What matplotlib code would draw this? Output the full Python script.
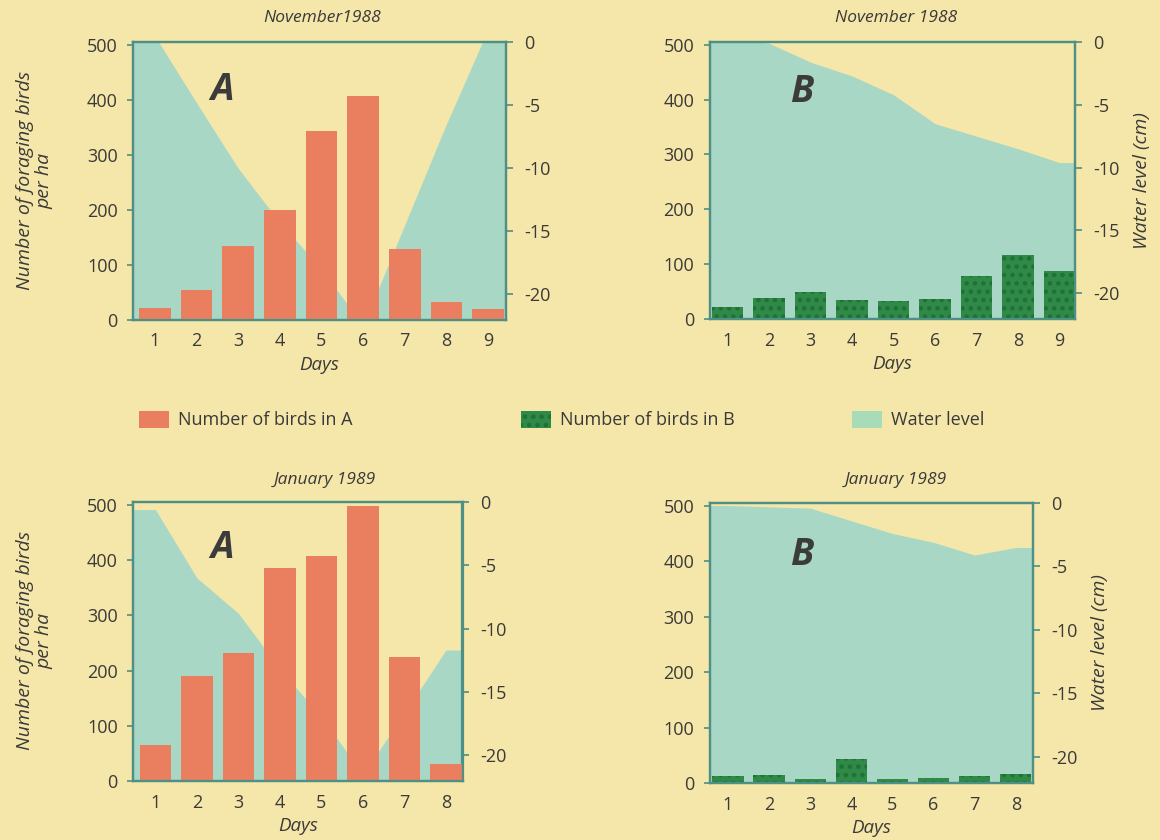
import numpy as np
import matplotlib
matplotlib.use("Agg")
import matplotlib.pyplot as plt
from matplotlib import font_manager
from matplotlib.patches import Rectangle

# ---------------- data ----------------
days_nov = [1, 2, 3, 4, 5, 6, 7, 8, 9]
days_jan = [1, 2, 3, 4, 5, 6, 7, 8]
birds_nov_A = [22, 54, 135, 200, 344, 406, 129, 33, 20]
birds_nov_B = [21, 39, 49, 34, 33, 37, 78, 116, 87]
birds_jan_A = [65, 190, 232, 385, 408, 497, 225, 30]
birds_jan_B = [12, 15, 8, 43, 7, 9, 13, 17]
water_nov_A = [0.5, -4.8, -10.0, -14.3, -18.0, -22.5, -14.5, -6.5, 1.0]
water_nov_B = [0.3, -0.1, -1.6, -2.7, -4.2, -6.5, -7.5, -8.5, -9.6]
water_jan_A = [-0.6, -6.0, -8.8, -13.2, -17.0, -21.5, -16.7, -11.7]
water_jan_B = [-0.2, -0.3, -0.4, -1.4, -2.4, -3.1, -4.1, -3.5]
bird_ticks = [0, 100, 200, 300, 400, 500]
water_ticks = [0, -5, -10, -15, -20]
titles = ["November1988", "November 1988", "January 1989", "January 1989"]
site_letters = ["A", "B", "A", "B"]
legend_labels = ["Number of birds in A", "Number of birds in B", "Water level"]

# ---------------- style ----------------
def pick_font():
    for f in ["Liberation Sans Narrow", "DejaVu Sans Condensed", "Open Sans", "DejaVu Sans"]:
        try:
            font_manager.findfont(font_manager.FontProperties(family=f), fallback_to_default=False)
            return f
        except Exception:
            continue
    return "DejaVu Sans"

FONT = pick_font()
plt.rcParams["font.family"] = [FONT, "DejaVu Sans"]
plt.rcParams["hatch.linewidth"] = 2.0

BG = "#F5E6A9"
WATER = "#A9D7C5"
WATER_LEG = "#A8DCB8"
ORANGE = "#E97F5E"
GREEN = "#2E8A46"
GREEN_DOT = "#226F37"
SPINE = "#4E8F86"
TXT = "#3a3a3a"

W, H = 1160, 840
fig = plt.figure(figsize=(11.6, 8.4), dpi=100, facecolor=BG)

def rect(l, t, r, b):
    return [l / W, 1 - b / H, (r - l) / W, (b - t) / H]

panels = [
    dict(rect=rect(133, 42, 506, 320), days=days_nov, birds=birds_nov_A, water=water_nov_A,
         color=ORANGE, hatch=None, xlim=(0.48, 9.43), lpos=(0.239, 0.827), right_label=False),
    dict(rect=rect(709.5, 42, 1075, 319), days=days_nov, birds=birds_nov_B, water=water_nov_B,
         color=GREEN, hatch="..", xlim=(0.57, 9.37), lpos=(0.253, 0.82), right_label=True),
    dict(rect=rect(133, 502, 462.5, 781), days=days_jan, birds=birds_jan_A, water=water_jan_A,
         color=ORANGE, hatch=None, xlim=(0.46, 8.40), lpos=(0.27, 0.835), right_label=False),
    dict(rect=rect(709.5, 503, 1033, 783), days=days_jan, birds=birds_jan_B, water=water_jan_B,
         color=GREEN, hatch="..", xlim=(0.55, 8.42), lpos=(0.286, 0.814), right_label=True),
]

WYLIM = (-22.05, 0.0)
BYLIM = (0, 505)

for i, p in enumerate(panels):
    ax = fig.add_axes(p["rect"])
    axw = ax.twinx()
    ax.set_zorder(axw.get_zorder() + 1)
    ax.patch.set_visible(False)
    axw.patch.set_visible(False)

    days = np.asarray(p["days"], dtype=float)
    water = np.asarray(p["water"], dtype=float)
    x0, x1 = p["xlim"]
    xe = np.r_[x0, days, x1]
    we = np.r_[water[0], water, water[-1]]
    axw.fill_between(xe, WYLIM[0] - 5, we, color=WATER, lw=0)
    axw.set_ylim(*WYLIM)

    if p["hatch"]:
        ax.bar(days, p["birds"], width=0.76, color=p["color"], edgecolor=GREEN_DOT,
               linewidth=0, hatch=p["hatch"])
    else:
        ax.bar(days, p["birds"], width=0.76, color=p["color"], linewidth=0)
    ax.set_xlim(x0, x1)
    ax.set_ylim(*BYLIM)

    ax.set_yticks(bird_ticks)
    ax.set_yticklabels([str(v) for v in bird_ticks])
    axw.set_yticks(water_ticks)
    axw.set_yticklabels([str(v) for v in water_ticks])
    ax.set_xticks(days)
    ax.set_xticklabels([str(int(d)) for d in days])

    for a in (ax, axw):
        for s in a.spines.values():
            s.set_color(SPINE)
            s.set_linewidth(1.6)
    ax.tick_params(axis="y", direction="out", length=4, width=1.2, color=SPINE,
                   labelsize=13, labelcolor=TXT, pad=7)
    ax.tick_params(axis="x", length=0, labelsize=13, labelcolor=TXT, pad=9)
    axw.tick_params(axis="y", direction="out", length=5, width=1.2, color=SPINE,
                    labelsize=13, labelcolor=TXT, pad=8)

    ax.set_xlabel("Days", fontsize=13.5, style="italic", color=TXT, labelpad=4)

    ax.text(p["lpos"][0], p["lpos"][1], site_letters[i], transform=ax.transAxes,
            fontsize=27, style="italic", fontweight="bold", color="#3b3b3b",
            ha="center", va="center")

    if p["right_label"]:
        axw.set_ylabel("Water level (cm)", fontsize=14, style="italic", color=TXT,
                       labelpad=10)

# titles (centered on column)
title_pos = [(322, 18), (896, 18), (325, 480), (896, 480)]
for t, (x, y) in zip(titles, title_pos):
    fig.text(x / W, 1 - y / H, t, fontsize=12.5, style="italic", color=TXT,
             ha="center", va="center")

# left y labels
for yc in (181, 641):
    fig.text(35 / W, 1 - yc / H, "Number of foraging birds\nper ha", rotation=90,
             fontsize=14, style="italic", color=TXT, ha="center", va="center",
             multialignment="center", linespacing=1.1)

# legend (manual, figure coordinates)
leg_colors = [ORANGE, GREEN, WATER_LEG]
leg_hatch = [None, "..", None]
leg_x = [139, 521, 852]
for lab, c, h, lx in zip(legend_labels, leg_colors, leg_hatch, leg_x):
    r = Rectangle((lx / W, 1 - 428 / H), 30 / W, 17 / H, transform=fig.transFigure,
                  facecolor=c, edgecolor=GREEN_DOT if h else "none", linewidth=0,
                  hatch=h)
    fig.patches.append(r)
    fig.text((lx + 39) / W, 1 - 420 / H, lab, fontsize=13, color=TXT,
             ha="left", va="center")

fig.savefig("out.png", dpi=100, facecolor=BG)
